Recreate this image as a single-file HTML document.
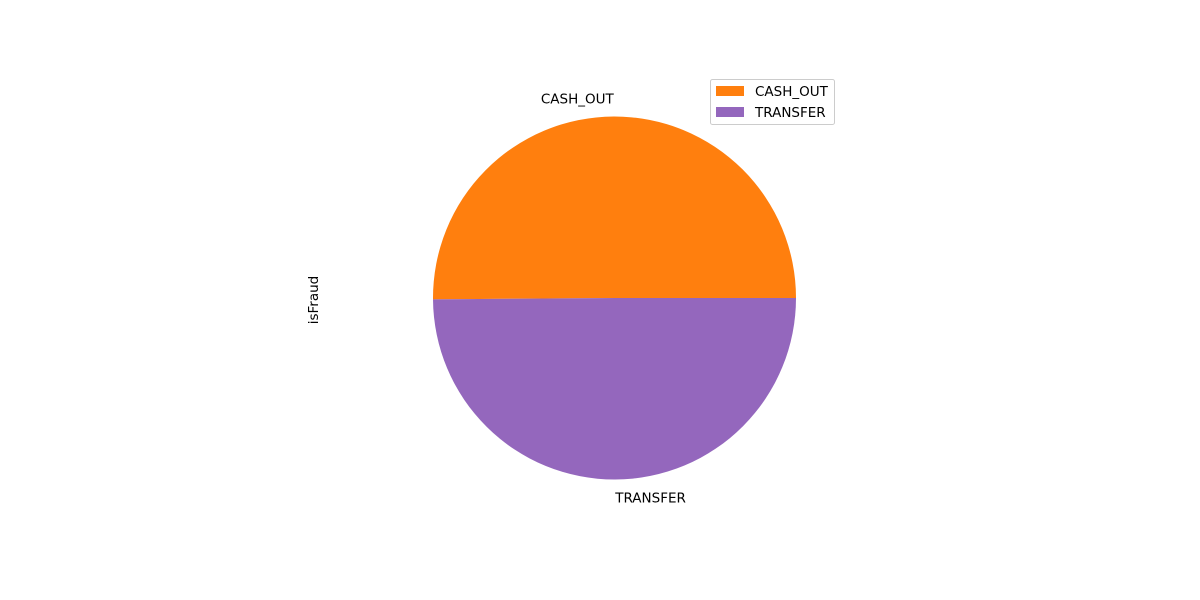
<!DOCTYPE html>
<html>
<head>
<meta charset="utf-8">
<style>
  html,body{margin:0;padding:0;background:#fff;}
  svg{display:block;}
  text{font-family:"DejaVu Sans","Liberation Sans",sans-serif;font-size:13.5px;fill:#000;}
</style>
</head>
<body>
<svg id="chart" width="1200" height="600" viewBox="0 0 1200 600">
  <rect x="0" y="0" width="1200" height="600" fill="#fff"></rect>
  <g id="slices"></g>
  <g id="labels"></g>
  <text x="318" y="300" transform="rotate(-90 318 300)" text-anchor="middle">isFraud</text>
  <g id="legend">
    <rect x="710.5" y="79.5" width="124" height="45" rx="2" fill="#fff" stroke="#ccc"></rect>
  </g>
</svg>
<script>
const categories = ["CASH_OUT", "TRANSFER"];
const values = [4116, 4097];
const colors = ["#ff7f0e", "#9467bd"];

const cx = 614.5, cy = 298, r = 181.5;
const svgNS = "http://www.w3.org/2000/svg";
const total = values.reduce((a, b) => a + b, 0);
const slicesG = document.getElementById("slices");
const labelsG = document.getElementById("labels");
const legendG = document.getElementById("legend");

function pt(angDeg, rad) {
  const a = angDeg * Math.PI / 180;
  return [cx + rad * Math.cos(a), cy - rad * Math.sin(a)];
}

let start = 0;
values.forEach((v, i) => {
  const sweep = v / total * 360;
  const end = start + sweep;
  const [x1, y1] = pt(start, r);
  const [x2, y2] = pt(end, r);
  const large = sweep > 180 ? 1 : 0;
  const p = document.createElementNS(svgNS, "path");
  p.setAttribute("d", `M${cx},${cy} L${x1},${y1} A${r},${r} 0 ${large} 0 ${x2},${y2} Z`);
  p.setAttribute("fill", colors[i]);
  
  
  slicesG.appendChild(p);

  const mid = start + sweep / 2;
  const [lx, ly] = pt(mid, r * 1.1);
  const t = document.createElementNS(svgNS, "text");
  t.setAttribute("x", lx);
  t.setAttribute("y", ly + 5);
  t.setAttribute("text-anchor", lx < cx ? "end" : "start");
  t.textContent = categories[i];
  
  
  labelsG.appendChild(t);

  const sw = document.createElementNS(svgNS, "rect");
  sw.setAttribute("x", 716);
  sw.setAttribute("y", 86 + i * 21);
  sw.setAttribute("width", 28);
  sw.setAttribute("height", 10);
  sw.setAttribute("fill", colors[i]);
  
  
  legendG.appendChild(sw);

  const lt = document.createElementNS(svgNS, "text");
  lt.setAttribute("x", 755);
  lt.setAttribute("y", 96 + i * 21);
  lt.textContent = categories[i];
  
  
  legendG.appendChild(lt);

  start = end;
});
</script>
</body>
</html>
